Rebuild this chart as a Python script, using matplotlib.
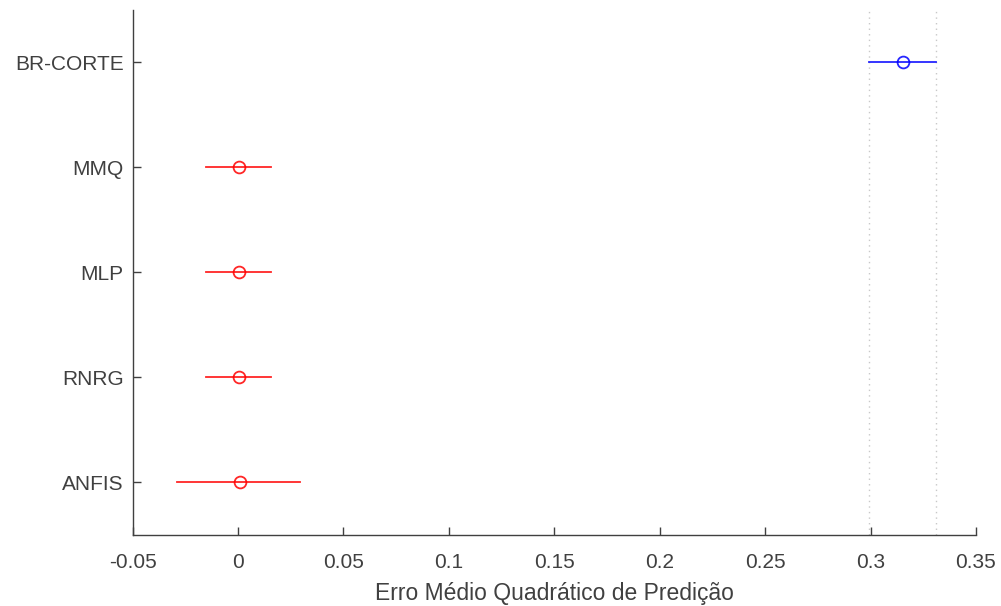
import matplotlib
matplotlib.use("Agg")
import matplotlib.pyplot as plt

# Group estimates and comparison intervals
groups = ['BR-CORTE', 'MMQ', 'MLP', 'RNRG', 'ANFIS']
means = [0.3152, 0.0003, 0.0003, 0.0003, 0.0008]
lower = [0.2995, -0.0153, -0.0153, -0.0153, -0.0288]
upper = [0.3310, 0.0158, 0.0158, 0.0158, 0.0295]
colors = ['blue', 'red', 'red', 'red', 'red']
xticks = [-0.05, 0, 0.05, 0.1, 0.15, 0.2, 0.25, 0.3, 0.35]
xticklabels = ['-0.05', '0', '0.05', '0.1', '0.15', '0.2', '0.25', '0.3', '0.35']

plt.rcParams['font.family'] = ['Liberation Sans', 'DejaVu Sans']
gray = '#404040'

fig = plt.figure(figsize=(10.01, 6.06), dpi=100)
ax = fig.add_axes([0.1324, 0.1172, 0.8426, 0.8663])

ypos = list(range(1, len(groups) + 1))

# dotted guides at the interval of the highlighted group
for xv in (lower[0], upper[0]):
    ax.axvline(xv, color='#c8c8c8', linestyle=(0, (1, 3)), linewidth=1.0, zorder=1)

for y, m, lo, hi, c in zip(ypos, means, lower, upper, colors):
    ax.plot([lo, hi], [y, y], color=c, linewidth=1.3, alpha=0.85, zorder=2)
    ax.plot([m], [y], marker='o', markersize=8.5, markerfacecolor='none',
            markeredgecolor=c, markeredgewidth=1.3, alpha=0.85, zorder=3)

ax.set_xlim(-0.05, 0.35)
ax.set_ylim(len(groups) + 0.5, 0.5)
ax.set_yticks(ypos)
ax.set_yticklabels(groups)
ax.set_xticks(xticks)
ax.set_xticklabels(xticklabels)

for side in ('top', 'right'):
    ax.spines[side].set_visible(False)
for side in ('left', 'bottom'):
    ax.spines[side].set_color(gray)
    ax.spines[side].set_linewidth(1.0)

ax.tick_params(axis='both', direction='in', length=6, width=1.0,
               color=gray, labelcolor=gray, labelsize=15)
ax.tick_params(axis='x', pad=13)
ax.tick_params(axis='y', pad=6.5)
ax.set_xlabel('Erro Médio Quadrático de Predição', fontsize=16.5,
              color=gray, labelpad=7)

fig.savefig('out.png', dpi=100)
